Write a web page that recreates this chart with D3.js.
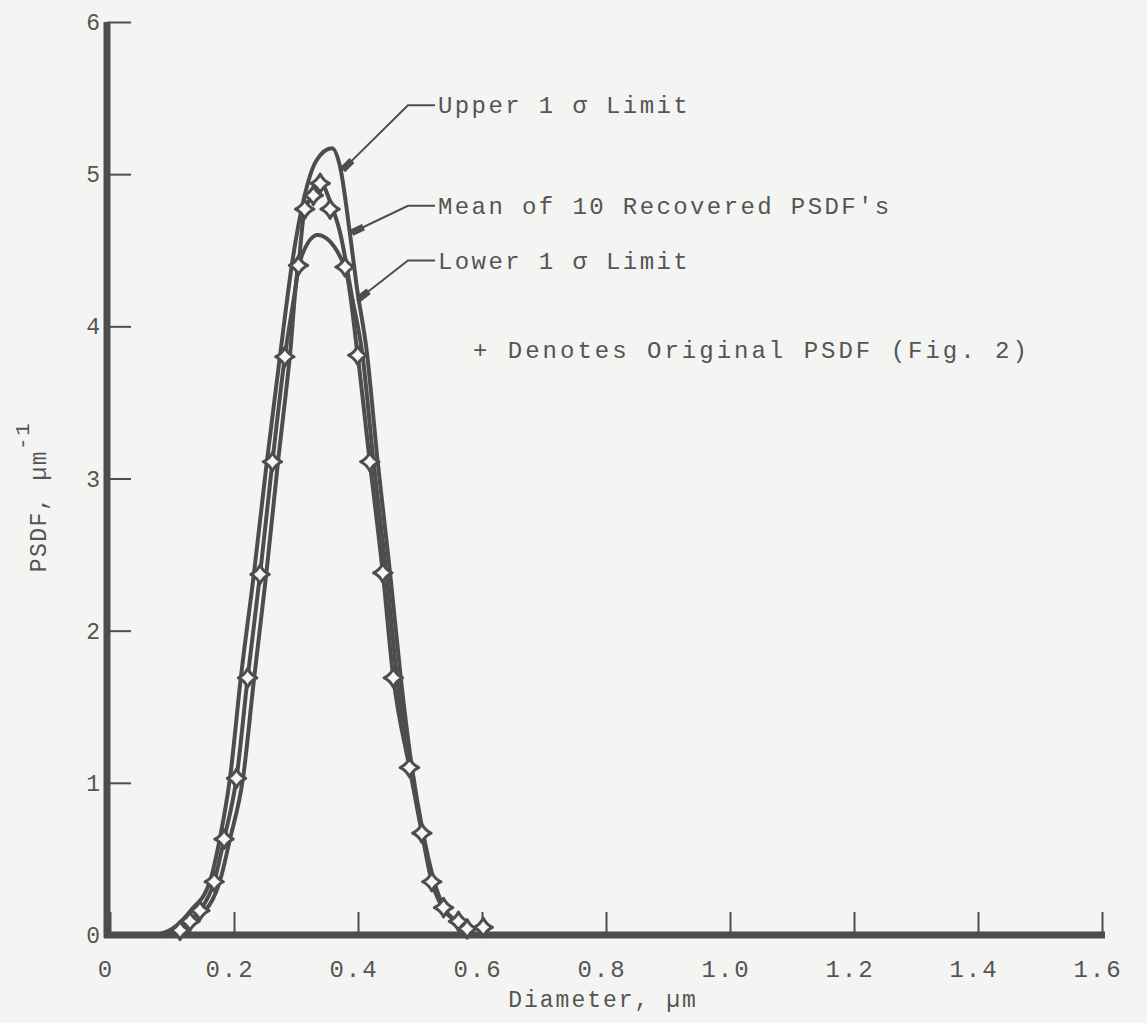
<!DOCTYPE html>
<html>
<head>
<meta charset="utf-8">
<script src="https://cdn.jsdelivr.net/npm/d3@7"></script>
<style>
	body { margin: 0; background: #f4f4f2; }
	svg text { font-family: "Liberation Mono", "DejaVu Sans Mono", monospace; fill: #555; }
</style>
</head>
<body>
<script>
//wrap everything in a self-executing function to keep it out of global scope
(function(){

	//axis ticks
	var xTicks = [0, 0.2, 0.4, 0.6, 0.8, 1.0, 1.2, 1.4, 1.6];
	var xTickLabels = ["0", "0.2", "0.4", "0.6", "0.8", "1.0", "1.2", "1.4", "1.6"];
	var yTicks = [0, 1, 2, 3, 4, 5, 6];

	//upper 1 sigma limit (diameter, PSDF)
	var upperD = [0.075, 0.10, 0.13, 0.161, 0.177, 0.1935, 0.211, 0.232, 0.253, 0.274, 0.295, 0.309, 0.333, 0.358, 0.371, 0.387, 0.398, 0.414, 0.432, 0.452, 0.469, 0.487, 0.505, 0.523, 0.540, 0.561, 0.580];
	var upperV = [0, 0.04, 0.16, 0.35, 0.63, 1.03, 1.69, 2.37, 3.11, 3.80, 4.45, 4.77, 5.09, 5.17, 5.05, 4.61, 4.26, 3.84, 3.10, 2.37, 1.69, 1.10, 0.67, 0.35, 0.17, 0.08, 0];

	//mean of 10 recovered PSDF's
	var meanD = [0.08, 0.113, 0.129, 0.145, 0.168, 0.184, 0.204, 0.222, 0.242, 0.262, 0.282, 0.304, 0.314, 0.328, 0.339, 0.355, 0.372, 0.39, 0.407, 0.425, 0.446, 0.463, 0.485, 0.504, 0.521, 0.539, 0.56, 0.578];
	var meanV = [0, 0.03, 0.09, 0.16, 0.35, 0.63, 1.03, 1.69, 2.37, 3.11, 3.80, 4.40, 4.77, 4.86, 4.95, 4.82, 4.60, 4.20, 3.82, 3.11, 2.37, 1.69, 1.10, 0.67, 0.35, 0.17, 0.08, 0];

	//lower 1 sigma limit
	var lowerD = [0.09, 0.12, 0.15, 0.177, 0.1935, 0.2145, 0.2325, 0.252, 0.271, 0.290, 0.304, 0.335, 0.379, 0.3995, 0.419, 0.440, 0.457, 0.483, 0.503, 0.519, 0.538, 0.56, 0.577];
	var lowerV = [0, 0.04, 0.14, 0.35, 0.63, 1.03, 1.69, 2.37, 3.11, 3.80, 4.40, 4.60, 4.39, 3.81, 3.11, 2.38, 1.69, 1.10, 0.67, 0.35, 0.17, 0.08, 0];

	//original PSDF, drawn as "+" markers
	var origD = [0.113, 0.129, 0.145, 0.168, 0.184, 0.204, 0.222, 0.242, 0.262, 0.282, 0.304, 0.314, 0.328, 0.339, 0.355, 0.379, 0.3995, 0.419, 0.440, 0.457, 0.483, 0.503, 0.519, 0.538, 0.562, 0.576, 0.602];
	var origV = [0.03, 0.09, 0.16, 0.35, 0.63, 1.03, 1.69, 2.37, 3.11, 3.80, 4.40, 4.77, 4.86, 4.94, 4.77, 4.39, 3.81, 3.11, 2.38, 1.69, 1.10, 0.67, 0.35, 0.18, 0.09, 0.04, 0.05];

	//annotation labels and the point each leader touches
	var labelText = ["Upper 1 \u03c3 Limit", "Mean of 10 Recovered PSDF's", "Lower 1 \u03c3 Limit"];
	var labelTipD = [0.373, 0.387, 0.398];
	var labelTipV = [5.02, 4.61, 4.17];
	var labelV = [5.4, 4.74, 4.38];

	var width = 1147,
		height = 1023;

	var ink = "#4d4d4d";

	window.onload = drawChart();

	function drawChart(){

		var svg = d3.select("body")
			.append("svg")
			.attr("width", width)
			.attr("height", height);

		svg.append("rect")
			.attr("width", width)
			.attr("height", height)
			.attr("fill", "#f4f4f2");

		var x = d3.scaleLinear()
			.domain([0, 1.6])
			.range([110, 1102]);

		var y = d3.scaleLinear()
			.domain([0, 6])
			.range([935, 22]);

		//tick marks point inward
		var xAxis = d3.axisTop(x)
			.tickValues(xTicks)
			.tickSize(23)
			.tickFormat("");

		svg.append("g")
			.attr("transform", "translate(0," + y(0) + ")")
			.call(xAxis)
			.call(function(g){
				g.select(".domain").remove();
				g.selectAll("line").attr("stroke", ink).attr("stroke-width", 2);
			});

		var yAxis = d3.axisRight(y)
			.tickValues(yTicks)
			.tickSize(24)
			.tickFormat("");

		svg.append("g")
			.attr("transform", "translate(" + (x(0) - 3) + ",0)")
			.call(yAxis)
			.call(function(g){
				g.select(".domain").remove();
				g.selectAll("line").attr("stroke", ink).attr("stroke-width", 2);
			});

		//heavy axis lines
		svg.append("line")
			.attr("x1", x(0) - 3).attr("x2", x(0) - 3)
			.attr("y1", y(6)).attr("y2", y(0) + 3)
			.attr("stroke", ink)
			.attr("stroke-width", 7);

		svg.append("line")
			.attr("x1", x(0) - 6).attr("x2", x(1.6) + 3)
			.attr("y1", y(0)).attr("y2", y(0))
			.attr("stroke", ink)
			.attr("stroke-width", 7);

		//tick labels
		svg.selectAll(".xlab")
			.data(xTicks)
			.enter()
			.append("text")
			.attr("class", "xlab")
			.attr("x", function(d){ return x(d) - 4; })
			.attr("y", 977)
			.attr("text-anchor", "middle")
			.style("font-size", "24px")
			.style("letter-spacing", "2px")
			.text(function(d, i){ return xTickLabels[i]; });

		svg.selectAll(".ylab")
			.data(yTicks)
			.enter()
			.append("text")
			.attr("class", "ylab")
			.attr("x", 100)
			.attr("y", function(d){ return y(d) + 8; })
			.attr("text-anchor", "end")
			.style("font-size", "23px")
			.text(function(d){ return d; });

		//axis titles
		svg.append("text")
			.attr("x", 603)
			.attr("y", 1007)
			.attr("text-anchor", "middle")
			.style("font-size", "23px")
			.style("letter-spacing", "2px")
			.text("Diameter, \u00b5m");

		var yTitle = svg.append("text")
			.attr("transform", "translate(46,497) rotate(-90)")
			.attr("text-anchor", "middle")
			.style("font-size", "23px")
			.style("letter-spacing", "1.5px");
		yTitle.append("tspan").text("PSDF, \u00b5m");
		yTitle.append("tspan")
			.attr("dy", -17)
			.style("font-size", "21px")
			.text("-1");

		//curves
		var line = d3.line()
			.x(function(d){ return x(d[0]); })
			.y(function(d){ return y(d[1]); })
			.curve(d3.curveMonotoneX);

		var curves = [
			d3.zip(upperD, upperV),
			d3.zip(meanD, meanV),
			d3.zip(lowerD, lowerV)
		];

		svg.selectAll(".curve")
			.data(curves)
			.enter()
			.append("path")
			.attr("class", "curve")
			.attr("d", line)
			.attr("fill", "none")
			.attr("stroke", ink)
			.attr("stroke-width", 4)
			.attr("stroke-linejoin", "round");

		//custom concave diamond for the "+" markers
		var sparkle = {
			draw: function(context, size){
				var r = Math.sqrt(size) / 2,
					k = r * 0.32;
				context.moveTo(0, -r);
				context.quadraticCurveTo(k, -k, r, 0);
				context.quadraticCurveTo(k, k, 0, r);
				context.quadraticCurveTo(-k, k, -r, 0);
				context.quadraticCurveTo(-k, -k, 0, -r);
				context.closePath();
			}
		};

		svg.selectAll(".marker")
			.data(d3.zip(origD, origV))
			.enter()
			.append("path")
			.attr("class", "marker")
			.attr("transform", function(d){ return "translate(" + x(d[0]) + "," + y(d[1]) + ")"; })
			.attr("d", d3.symbol().type(sparkle).size(340))
			.attr("fill", "#f7f7f5")
			.attr("stroke", ink)
			.attr("stroke-width", 3)
			.attr("stroke-linejoin", "round");

		//annotation labels with leader lines
		var labelX = 438;
		labelText.forEach(function(t, i){
			var ty = y(labelV[i]);
			var tipX = x(labelTipD[i]),
				tipY = y(labelTipV[i]);
			var elbowX = labelX - 30;

			svg.append("path")
				.attr("d", "M" + (labelX - 3) + "," + (ty - 8) + "H" + elbowX + "L" + tipX + "," + tipY)
				.attr("fill", "none")
				.attr("stroke", ink)
				.attr("stroke-width", 2);

			//short heavy stroke as the arrow head
			var dx = elbowX - tipX,
				dy = (ty - 8) - tipY,
				len = Math.sqrt(dx * dx + dy * dy);
			svg.append("line")
				.attr("x1", tipX + dx / len * 2).attr("y1", tipY + dy / len * 2)
				.attr("x2", tipX + dx / len * 15).attr("y2", tipY + dy / len * 15)
				.attr("stroke", ink)
				.attr("stroke-width", 7);

			svg.append("text")
				.attr("x", labelX)
				.attr("y", ty)
				.style("font-size", "24px")
				.style("letter-spacing", "2.4px")
				.text(t);
		});

		svg.append("text")
			.attr("x", 473)
			.attr("y", 358)
			.style("font-size", "24px")
			.style("letter-spacing", "3px")
			.text("+ Denotes Original PSDF (Fig. 2)");
	};
})();
</script>
</body>
</html>
